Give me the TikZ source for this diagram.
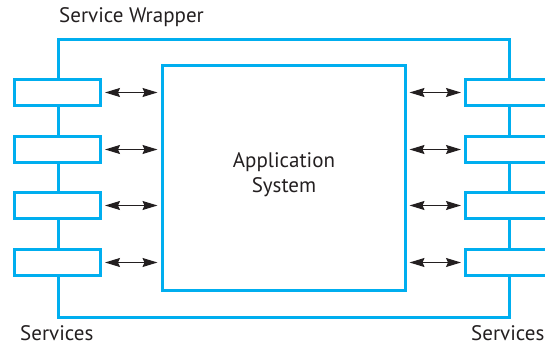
\documentclass[tikz,border=0pt]{standalone}
\usepackage{fontspec}
\setmainfont{PT Sans}
\usetikzlibrary{arrows.meta}
\definecolor{wrap}{HTML}{00AEEF}
\definecolor{ink}{HTML}{231F20}
\begin{document}
\begin{tikzpicture}[x=1pt,y=1pt,
  svc/.style={draw=wrap,line width=3pt,minimum width=86pt,minimum height=26pt,inner sep=0pt},
  wline/.style={draw=wrap,line width=3pt},
  conn/.style={draw=ink,line width=1.2pt,{Stealth[length=15pt,width=9pt,inset=2pt]}-{Stealth[length=15pt,width=9pt,inset=2pt]}},
  lbl/.style={font=\fontsize{21}{25}\selectfont,text=ink}]
\useasboundingbox (0,0) rectangle (545,345);
\begin{scope}
\clip (0,0) rectangle (545,345);
% wrapper
\draw[wline] (58,305) rectangle (509,28);
% app
\node[draw=wrap,line width=3pt,minimum width=243pt,minimum height=224pt,inner sep=0pt] (app) at (283.5,167) {};
\node[lbl,align=center] (apptext) at (284,170) {Application\\System};
% services
\foreach \i/\y in {1/252.5,2/195.5,3/139.5,4/82.5}{
  \node[svc,fill=white] (l\i) at (57.5,\y) {};
  \node[svc,fill=white] (r\i) at (508.5,\y) {};
  \draw[conn] ([xshift=3pt]l\i.east) -- ([xshift=-3pt]app.west |- l\i.east);
  \draw[conn] ([xshift=3pt]app.east |- r\i.west) -- ([xshift=-3pt]r\i.west);
}
\end{scope}
\node[lbl,anchor=base west,inner sep=0pt] (sw) at (59,322) {Service Wrapper};
\node[lbl,anchor=base west,inner sep=0pt] (sl) at (20,5) {Services};
\node[lbl,anchor=base west,inner sep=0pt] (sr) at (471,5) {Services};
\end{tikzpicture}
\end{document}
